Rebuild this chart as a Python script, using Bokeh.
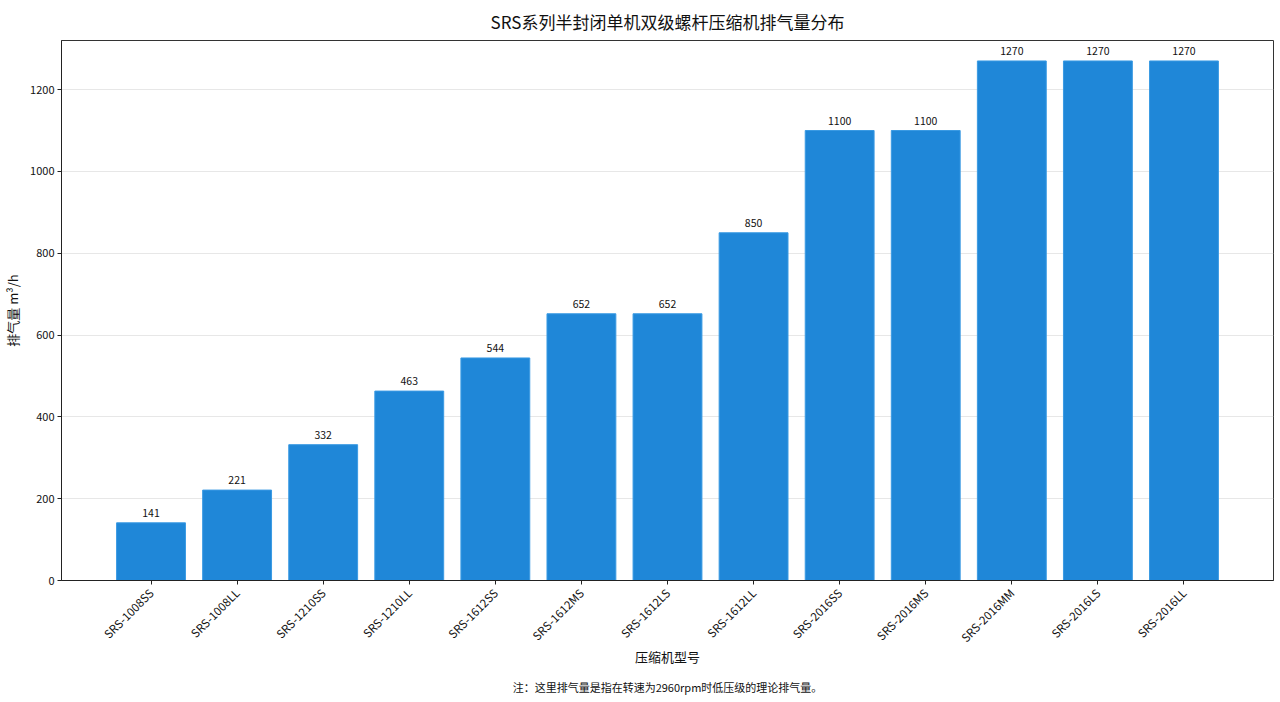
from bokeh.plotting import figure
from bokeh.models import Range1d, FixedTicker, Title, ColumnDataSource
from bokeh.core.properties import value
from bokeh.embed import file_html
from bokeh.resources import INLINE
import math

models = ["SRS-1008SS", "SRS-1008LL", "SRS-1210SS", "SRS-1210LL", "SRS-1612SS",
          "SRS-1612MS", "SRS-1612LS", "SRS-1612LL", "SRS-2016SS", "SRS-2016MS",
          "SRS-2016MM", "SRS-2016LS", "SRS-2016LL"]
displacement = [141, 221, 332, 463, 544, 652, 652, 850, 1100, 1100, 1270, 1270, 1270]
y_ticks = [0, 200, 400, 600, 800, 1000, 1200]

title_text = "SRS系列半封闭单机双级螺杆压缩机排气量分布"
x_label = "压缩机型号"
y_label = "排气量 m³/h"
note_text = "注：这里排气量是指在转速为2960rpm时低压级的理论排气量。"

FONT = "Noto Sans CJK SC"
xs = list(range(len(models)))
src = ColumnDataSource(dict(x=xs, top=displacement, label=[str(v) for v in displacement]))

p = figure(frame_width=1212, frame_height=540, output_backend="svg", toolbar_location=None,
           x_range=Range1d(-1.04, len(models) - 1 + 1.04), y_range=Range1d(0, 1320),
           min_border_left=40, min_border_right=2, min_border_top=0, min_border_bottom=2)

p.title.text = title_text
p.title.align = "center"
p.title.text_font = FONT
p.title.text_font_size = "17px"
p.title.text_font_style = "normal"
p.title.text_color = "#111111"
p.title.standoff = 13

p.vbar(x="x", top="top", width=0.8, source=src, fill_color="#1f87d8", line_color="#3a9ae3", line_width=1)
p.text(x="x", y="top", text="label", source=src, text_align="center", text_baseline="bottom",
       y_offset=-6, text_font=value(FONT), text_font_size="10.5px", text_color="#111111")

p.xaxis.ticker = FixedTicker(ticks=xs)
p.xaxis.major_label_overrides = {i: m for i, m in enumerate(models)}
p.xaxis.major_label_orientation = math.pi / 4
p.yaxis.ticker = FixedTicker(ticks=y_ticks)
for ax in (p.xaxis, p.yaxis):
    ax.major_label_text_font = FONT
    ax.major_label_text_font_size = "11px"
    ax.major_label_text_color = "#111111"
    ax.axis_label_text_font = FONT
    ax.axis_label_text_font_size = "13px"
    ax.axis_label_text_font_style = "normal"
    ax.axis_label_text_color = "#111111"
    ax.minor_tick_line_color = None
    ax.major_tick_out = 4
    ax.major_tick_in = 0
    ax.axis_line_color = "#222222"
    ax.major_tick_line_color = "#222222"
p.xaxis.major_label_text_font_size = "11.5px"
p.xaxis.axis_label = x_label
p.yaxis.axis_label = y_label
p.xaxis.axis_label_standoff = -7
p.xaxis.major_label_standoff = 6
p.yaxis.major_label_standoff = 3
p.yaxis.axis_label_standoff = 5

p.xgrid.grid_line_color = None
p.ygrid.grid_line_color = "#dddddd"
p.ygrid.grid_line_alpha = 0.7
p.outline_line_color = "#333333"
p.outline_line_width = 1

note = Title(text=note_text, align="center", text_font=FONT, text_font_size="11px",
             text_font_style="normal", text_color="#111111", standoff=17)
p.add_layout(note, "below")

open("out.html", "w").write(file_html(p, INLINE))
